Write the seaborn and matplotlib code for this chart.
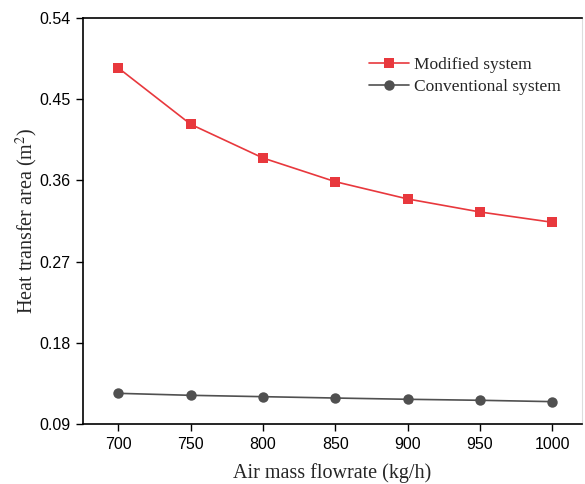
import pandas as pd
import numpy as np
import matplotlib
matplotlib.use("Agg")
import matplotlib.pyplot as plt
import seaborn as sns

# values
flowrate = [700, 750, 800, 850, 900, 950, 1000]
modified = [0.4843, 0.4220, 0.3847, 0.3585, 0.3394, 0.3250, 0.3136]
conventional = [0.1243, 0.1221, 0.1206, 0.1191, 0.1177, 0.1166, 0.1151]
series_names = ["Modified system", "Conventional system"]
y_ticks = [0.09, 0.18, 0.27, 0.36, 0.45, 0.54]
x_ticks = [700, 750, 800, 850, 900, 950, 1000]

sns.set_style("white")
plt.rcParams["mathtext.fontset"] = "stix"

df = pd.DataFrame({
    "flowrate": flowrate * 2,
    "area": modified + conventional,
    "system": [series_names[0]] * len(flowrate) + [series_names[1]] * len(flowrate),
})

fig = plt.figure(figsize=(5.85, 4.84), dpi=100)
ax = fig.add_axes([0.1419, 0.1233, 0.8530, 0.8401])

sns.lineplot(data=df, x="flowrate", y="area", hue="system", style="system",
             palette=["#E8383D", "#505050"], markers=["s", "o"], dashes=False,
             markersize=7.5, markeredgewidth=0, linewidth=1.2, ax=ax)

ax.set_xlim(675.5, 1020.5)
ax.set_ylim(0.09, 0.54)
ax.set_xticks(x_ticks)
ax.set_yticks(y_ticks)
ax.set_yticklabels([f"{v:.2f}" for v in y_ticks])

for lab in ax.get_xticklabels() + ax.get_yticklabels():
    lab.set_fontfamily("Liberation Sans")
    lab.set_fontsize(11.5)
ax.tick_params(axis="both", direction="out", length=5, width=1, color="black",
               labelcolor="black", bottom=True, left=True, pad=4)

ax.set_xlabel("Air mass flowrate (kg/h)", fontfamily="Liberation Serif", fontsize=14.5, labelpad=8)
ax.set_ylabel("Heat transfer area (m$^2$)", fontfamily="Liberation Serif", fontsize=14.5)
ax.yaxis.set_label_coords(-0.086, 0.5)

for side in ["left", "bottom", "top"]:
    ax.spines[side].set_color("black")
    ax.spines[side].set_linewidth(1.2)
ax.spines["right"].set_color("#dddddd")
ax.spines["right"].set_linewidth(0.8)

ax.legend(loc="upper left", bbox_to_anchor=(0.555, 0.925), frameon=False,
          prop={"family": "Liberation Serif", "size": 12.5}, borderpad=0,
          handlelength=2.3, handletextpad=0.3, labelspacing=0.35)

plt.savefig("out.png", dpi=100)
